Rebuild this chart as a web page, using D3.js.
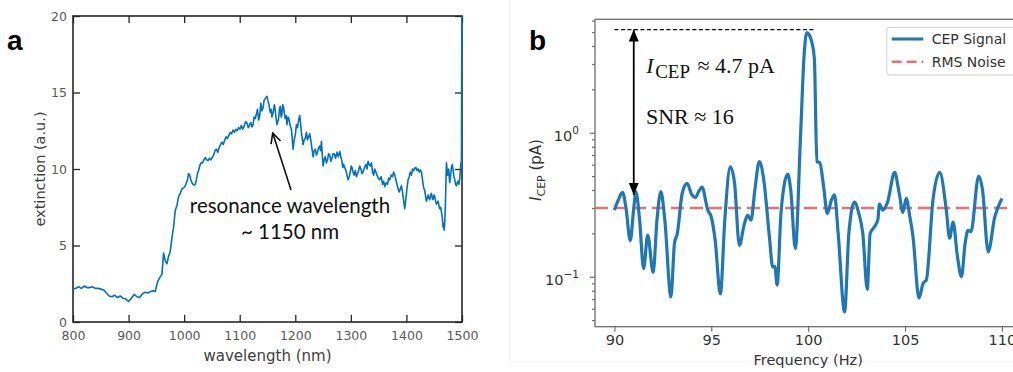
<!DOCTYPE html>
<html>
<head>
<meta charset="utf-8">
<script src="https://cdn.jsdelivr.net/npm/d3@7"></script>
<style>
  html, body { margin: 0; padding: 0; background: #fff; }
  svg { display: block; }
</style>
</head>
<body>
<script>
// ---------------- DATA ----------------
// Panel a: extinction spectrum, [wavelength (nm), extinction (a.u.)]
const spectrumA = [
[800,2.15],[805,2.2],[810,2.3],[815,2.2],[820,2.35],[825,2.25],[830,2.25],[835,2.3],[840,2.2],[845,2.2],
[850,2.15],[855,2.1],[860,1.9],[865,1.7],[870,1.65],[875,1.75],[880,1.6],[885,1.7],[890,1.55],[895,1.5],
[900,1.35],[905,1.55],[910,1.8],[915,1.65],[920,1.6],[925,1.85],[930,1.95],[935,1.9],[940,2.0],[945,2.05],
[948,2.0],[952,2.6],[956,2.9],[960,3.1],[963,4.5],[966,4.0],[969,3.8],[972,4.3],[975,4.6],[978,5.5],
[981,6.2],[984,7.3],[987,7.6],[990,8.2],[993,8.4],[996,8.7],
[1000,8.8],[1002,8.9],[1004,9.1],[1006,9.3],[1008,9.7],[1010,9.6],[1012,9.3],[1014,9.1],[1016,9.0],[1018,8.95],
[1020,9.0],[1022,9.3],[1024,9.7],[1026,9.9],[1028,10.2],[1030.5,10.4],[1033,10.4],[1035.5,10.6],[1038,10.75],[1040.5,10.6],
[1043,10.55],[1045.5,10.7],[1048,10.6],[1050.5,10.75],[1053,10.9],[1055.5,11.2],[1058,11.3],[1060.5,11.1],[1063,11.4],[1065.5,11.6],
[1068,11.75],[1070.5,11.6],[1073,11.9],[1075.5,12.1],[1078,12.0],[1080.5,12.2],[1083,12.4],[1085.5,12.3],[1088,12.55],[1090.5,12.4],
[1093,12.6],[1095.5,12.5],[1098,12.7],[1100.5,12.6],
[1103,12.85],[1105.5,12.6],[1108,12.8],[1110.5,13.1],[1113,13.0],[1115.5,12.7],[1118,12.9],[1120,13.05],[1122,12.75],[1124,12.9],
[1126,13.4],[1128,13.3],[1130,13.6],[1132,13.9],[1134,13.2],[1136,13.5],[1138,14.3],[1140,13.8],[1142,14.0],[1144,14.5],
[1146,14.6],[1149,14.75],[1150.5,14.5],[1152,14.3],[1153.5,14.0],[1155,13.7],[1156.5,13.9],[1158,13.4],[1159.5,13.6],[1161,13.9],
[1162.5,14.2],[1164,13.8],[1165.5,13.3],[1167,12.9],[1168.5,13.1],[1170,13.3],[1171.5,13.9],[1173,14.1],[1174.5,13.4],[1176,13.6],
[1177.5,14.2],[1179,14.0],[1180.5,13.6],[1182,13.3],[1183.5,13.5],[1185,12.9],[1187,13.4],[1189,13.2],[1191,12.8],[1193,12.6],
[1194.5,12.0],[1196,11.3],[1198,11.9],[1200,12.2],[1202,12.9],[1204,12.7],[1206,13.2],[1208,13.5],[1209.5,13.0],[1211,12.4],
[1212.5,12.0],[1214,11.6],[1216,11.9],[1218,12.0],[1220,12.4],[1222,11.9],[1224,12.1],[1226,12.3],[1227.5,12.0],[1229,11.6],
[1230.5,11.2],[1232,10.8],[1234,11.2],[1236,11.3],[1238,10.9],[1240,11.1],[1242,11.4],[1244,11.5],[1245.5,11.2],[1247,11.8],
[1248.5,11.0],[1250,10.2],[1252,10.6],[1254,10.8],[1256,10.4],[1258,10.6],[1260,11.0],[1262,10.9],[1264,10.5],[1266,10.7],
[1268,11.0],[1270,11.0],[1272.5,10.7],[1275,11.1],[1277.5,10.8],[1280,11.15],[1282,10.8],[1284,10.5],[1285.5,10.1],[1287,10.3],
[1289,10.1],[1291,9.9],[1293,9.6],[1295,9.3],[1297,9.5],[1299,9.8],[1300.5,10.2],[1302,10.1],[1304,9.8],[1306,9.6],
[1308,9.9],[1310,9.5],[1312,9.7],[1314,9.9],[1316,10.2],[1318,10.0],[1320,9.7],[1322,9.8],[1324.5,10.1],[1327,10.3],
[1329,10.0],[1331,10.5],[1333,10.3],[1335,10.2],[1337,10.4],[1339,9.8],[1341,9.6],[1343,10.0],[1345,9.8],[1347,9.6],
[1349.5,9.4],[1352,9.3],[1354.5,9.5],[1357,9.0],[1359,9.2],[1361,8.85],[1363.5,9.1],[1366,9.0],[1368,9.4],[1370,9.3],
[1372.5,9.6],[1375,9.5],[1377,9.8],[1379,9.6],[1381,9.3],[1383,9.0],[1385,8.7],[1387,8.5],[1389,8.7],[1391,8.9],
[1392.5,8.6],[1394,8.2],[1395.5,7.8],[1397,7.4],[1398.5,7.9],[1400,8.4],[1401.5,8.9],[1403,9.3],[1405,9.5],[1407,9.8],
[1409,9.6],[1411,10.0],[1413,9.9],[1415,10.05],[1417,10.1],[1419,9.9],[1421,10.0],[1423,9.8],[1425,9.95],[1427,9.8],
[1428.5,9.4],[1430,9.0],[1431.5,8.7],[1433,8.6],[1434.5,8.2],[1436,7.9],[1437.5,8.1],[1439,8.3],[1440.5,8.1],[1442,8.0],
[1443.5,8.3],[1445,8.4],[1446.5,8.1],[1448,8.0],[1449.5,8.3],[1451,8.2],[1452.5,7.9],[1454,7.7],[1455.5,7.8],[1457,7.9],
[1458.5,7.6],[1460,7.4],[1461.5,7.5],[1463,7.2],[1464.5,6.8],[1466,6.2],[1467,6.4],[1468,6.0],[1469,6.6],[1470,7.5],
[1471,9.0],[1472,10.4],[1473,10.0],[1474,9.6],[1475,9.9],[1476,10.0],[1477,9.5],[1478,9.1],[1479.5,9.6],[1481,10.1],
[1482.5,10.3],[1484,9.9],[1485.5,9.5],[1487,9.3],[1488.5,9.0],[1490,8.9],[1491.5,9.1],[1493,9.2],[1494.5,9.0],[1496,9.4],
[1497,9.9],[1498,10.4],[1499,10.0],[1500,25]
];
const wavelength = spectrumA.map(d => d[0]);
const extinction = spectrumA.map(d => d[1]);
const xTicksA = [800,900,1000,1100,1200,1300,1400,1500];
const yTicksA = [0,5,10,15,20];

// Panel b: CEP signal spectrum
const freq = [90.0,90.2,90.42,90.6,90.82,91.0,91.11,91.3,91.51,91.72,92.0,92.2,92.4,92.6,92.92,93.1,93.25,93.5,93.75,94.0,94.18,94.35,94.52,94.82,95.0,95.2,95.47,95.7,95.98,96.2,96.45,96.7,96.88,97.05,97.25,97.48,97.7,98.0,98.17,98.28,98.4,98.6,98.95,99.1,99.34,99.6,99.8,99.93,100.05,100.18,100.32,100.45,100.6,100.8,100.99,101.2,101.36,101.55,101.88,102.1,102.39,102.6,102.82,103.05,103.2,103.43,103.6,103.68,103.85,104.1,104.46,104.7,104.89,105.06,105.25,105.41,105.72,105.93,106.1,106.44,106.79,107.13,107.3,107.48,107.7,107.91,108.1,108.25,108.4,108.8,109.0,109.29,109.63,110.0];
const icep = [0.29,0.34,0.385,0.30,0.178,0.30,0.39,0.25,0.114,0.195,0.107,0.25,0.39,0.25,0.0726,0.17,0.20,0.38,0.445,0.37,0.354,0.39,0.42,0.29,0.26,0.18,0.076,0.25,0.58,0.45,0.165,0.23,0.268,0.247,0.40,0.63,0.48,0.19,0.117,0.118,0.0875,0.28,0.517,0.40,0.157,0.9,3.6,4.95,4.8,4.3,3.3,0.63,0.62,0.42,0.275,0.34,0.37,0.2,0.057,0.2,0.33,0.28,0.2,0.082,0.2,0.223,0.25,0.32,0.29,0.33,0.53,0.38,0.28,0.35,0.26,0.19,0.071,0.09,0.095,0.34,0.53,0.29,0.185,0.24,0.14,0.1,0.17,0.21,0.205,0.5,0.40,0.149,0.26,0.35];
const rmsNoise = 0.3;
const peakMarker = 5.2;
const arrowBottom = 0.37;
const xTicksB = [90,95,100,105,110];
const yMajorB = [0.1, 1];
const yMinorB = [0.05,0.06,0.07,0.08,0.09,0.2,0.3,0.4,0.5,0.6,0.7,0.8,0.9,2,3,4,5,6];
const legendLabels = ["CEP Signal", "RMS Noise"];

// ---------------- DRAW ----------------
const svg = d3.select("body").append("svg").attr("width", 1013).attr("height", 372);
const defs = svg.append("defs");

// faint panel edges
svg.append("line").attr("x1",509.5).attr("x2",509.5).attr("y1",0).attr("y2",362).attr("stroke","#f1f1f1");
svg.append("line").attr("x1",509.5).attr("x2",1013).attr("y1",362).attr("y2",362).attr("stroke","#f1f1f1");

// ===== Panel a =====
const xA = d3.scaleLinear().domain([800,1500]).range([73,462]);
const yA = d3.scaleLinear().domain([0,20]).range([322,16]);
const gA = svg.append("g");

defs.append("clipPath").attr("id","clipA")
  .append("rect").attr("x",72).attr("y",16).attr("width",391).attr("height",306);

const axColA = "#262626";
function styleA(g){
  g.select(".domain").remove();
  g.selectAll(".tick line").attr("stroke",axColA).attr("stroke-width",1.3);
  g.selectAll(".tick text").attr("fill","#595959").style("font-family","DejaVu Sans").style("font-size","12.5px");
}
gA.append("g").attr("transform","translate(0,322)")
  .call(d3.axisBottom(xA).tickValues(xTicksA).tickSizeInner(-7).tickSizeOuter(0).tickPadding(9).tickFormat(d3.format("d")))
  .call(styleA);
gA.append("g").attr("transform","translate(0,16)")
  .call(d3.axisTop(xA).tickValues(xTicksA).tickSizeInner(-7).tickSizeOuter(0).tickFormat(""))
  .call(styleA);
gA.append("g").attr("transform","translate(73,0)")
  .call(d3.axisLeft(yA).tickValues(yTicksA).tickSizeInner(-7).tickSizeOuter(0).tickPadding(6))
  .call(styleA);
gA.append("g").attr("transform","translate(462,0)")
  .call(d3.axisRight(yA).tickValues(yTicksA).tickSizeInner(-7).tickSizeOuter(0).tickFormat(""))
  .call(styleA);
gA.append("rect").attr("x",73).attr("y",16).attr("width",389).attr("height",306)
  .attr("fill","none").attr("stroke",axColA).attr("stroke-width",1.6);

const lineA = d3.line().x((d,i)=>xA(wavelength[i])).y(d=>yA(d));
gA.append("path").datum(extinction).attr("clip-path","url(#clipA)")
  .attr("d", lineA).attr("fill","none").attr("stroke","#0072BD").attr("stroke-width",1.6)
  .attr("stroke-linejoin","round");

gA.append("text").attr("x",(73+462)/2).attr("y",361).attr("text-anchor","middle")
  .attr("fill","#404040").style("font-family","DejaVu Sans").style("font-size","15px").text("wavelength (nm)");
gA.append("text").attr("transform","translate(45,169) rotate(-90)").attr("text-anchor","middle")
  .attr("fill","#404040").style("font-family","DejaVu Sans").style("font-size","14.5px").text("extinction (a.u.)");

// annotation
defs.append("marker").attr("id","openArrow").attr("viewBox","0 0 12 12").attr("refX",11).attr("refY",6)
  .attr("markerWidth",12).attr("markerHeight",12).attr("markerUnits","userSpaceOnUse").attr("orient","auto")
  .append("path").attr("d","M1,1 L11,6 L1,11").attr("fill","none").attr("stroke","#111").attr("stroke-width",1.6);
gA.append("line").attr("x1",xA(1192.3)).attr("y1",yA(8.63)).attr("x2",xA(1159.4)).attr("y2",yA(12.35))
  .attr("stroke","#111").attr("stroke-width",1.6).attr("marker-end","url(#openArrow)");
gA.append("text").attr("x",xA(1190.5)).attr("y",yA(7.12)).attr("text-anchor","middle")
  .attr("fill","#111").style("font-family","Lato").style("font-size","20.5px").text("resonance wavelength");
gA.append("text").attr("x",xA(1190.5)).attr("y",yA(5.42)).attr("text-anchor","middle")
  .attr("fill","#111").style("font-family","Lato").style("font-size","20.5px").text("~ 1150 nm");

svg.append("text").attr("x",7).attr("y",50).attr("fill","#000")
  .style("font-family","Liberation Sans").style("font-weight","bold").style("font-size","28px").text("a");

// ===== Panel b =====
const xB = d3.scaleLinear().domain([89,111]).range([595,1021.3]);
const yB = d3.scaleLog().domain([0.045,6.13]).range([326.7,19.3]);
const gB = svg.append("g");
defs.append("clipPath").attr("id","clipB")
  .append("rect").attr("x",595).attr("y",19.3).attr("width",426.3).attr("height",307.4);

const spineCol = "#6e6e6e";
function styleB(g){
  g.select(".domain").remove();
  g.selectAll(".tick line").attr("stroke",spineCol).attr("stroke-width",1.2);
  g.selectAll(".tick text").attr("fill","#333").style("font-family","DejaVu Sans").style("font-size","14.5px");
}
gB.append("g").attr("transform","translate(0,326.7)")
  .call(d3.axisBottom(xB).tickValues(xTicksB).tickSizeInner(5).tickSizeOuter(0).tickPadding(3.5).tickFormat(d3.format("d")))
  .call(styleB);
gB.append("g").attr("transform","translate(595,0)")
  .call(d3.axisLeft(yB).tickValues(yMajorB).tickSizeInner(5).tickSizeOuter(0).tickFormat(""))
  .call(styleB);
gB.append("g").attr("transform","translate(595,0)")
  .call(d3.axisLeft(yB).tickValues(yMinorB).tickSizeInner(3).tickSizeOuter(0).tickFormat(""))
  .call(styleB);
yMajorB.forEach(v=>{
  const t = gB.append("text").attr("x",579).attr("y",yB(v)+8.5).attr("text-anchor","end")
    .attr("fill","#333").style("font-family","DejaVu Sans").style("font-size","14.5px");
  t.append("tspan").text("10");
  t.append("tspan").attr("dy",-7).style("font-size","10.5px").text(v===1 ? "0" : "\u22121");
});
gB.append("rect").attr("x",595).attr("y",19.3).attr("width",426.3).attr("height",307.4)
  .attr("fill","none").attr("stroke",spineCol).attr("stroke-width",1.3);

// RMS noise line
gB.append("line").attr("clip-path","url(#clipB)")
  .attr("x1",xB(89)).attr("x2",xB(111)).attr("y1",yB(rmsNoise)).attr("y2",yB(rmsNoise))
  .attr("stroke","rgb(234,112,112)").attr("stroke-width",2.6).attr("stroke-dasharray","13,6");

// signal curve
const lineB = d3.line().x((d,i)=>xB(freq[i])).y(d=>yB(d)).curve(d3.curveMonotoneX);
gB.append("path").datum(icep).attr("clip-path","url(#clipB)")
  .attr("d", lineB).attr("fill","none").attr("stroke","#1f77b4").attr("stroke-width",3.2)
  .attr("stroke-linejoin","round");

// peak dashed marker
gB.append("line").attr("x1",xB(90)).attr("x2",xB(100.4)).attr("y1",yB(peakMarker)).attr("y2",yB(peakMarker))
  .attr("stroke","#000").attr("stroke-width",1.2).attr("stroke-dasharray","4,2.5");
// double arrow
defs.append("marker").attr("id","solidArrow").attr("viewBox","0 0 12 10").attr("refX",12).attr("refY",5)
  .attr("markerWidth",12).attr("markerHeight",10).attr("markerUnits","userSpaceOnUse").attr("orient","auto-start-reverse")
  .append("path").attr("d","M0,0 L12,5 L0,10 Z").attr("fill","#000");
gB.append("line").attr("x1",xB(91)).attr("x2",xB(91)).attr("y1",yB(arrowBottom)).attr("y2",yB(peakMarker))
  .attr("stroke","#000").attr("stroke-width",1.8)
  .attr("marker-start","url(#solidArrow)").attr("marker-end","url(#solidArrow)");

// annotation texts
const a1 = gB.append("text").attr("x",xB(91.65)).attr("y",yB(2.6)).attr("fill","#111")
  .style("font-family","Liberation Serif").style("font-size","22px");
a1.append("tspan").style("font-style","italic").text("I");
a1.append("tspan").attr("dy",5).attr("dx",1.5).style("font-size","19px").text("CEP");
a1.append("tspan").attr("dy",-5).attr("dx",2).text(" \u2248 4.7 pA");
gB.append("text").attr("x",xB(91.63)).attr("y",yB(1.15)).attr("fill","#111")
  .style("font-family","Liberation Serif").style("font-size","22px").text("SNR \u2248 16");

// axis labels
gB.append("text").attr("x",xB(100)).attr("y",365).attr("text-anchor","middle")
  .attr("fill","#333").style("font-family","DejaVu Sans").style("font-size","14.5px").text("Frequency (Hz)");
const yl = gB.append("text").attr("transform","translate(541,170) rotate(-90)").attr("text-anchor","middle")
  .attr("fill","#333").style("font-family","DejaVu Sans").style("font-size","15px");
yl.append("tspan").style("font-style","italic").text("I");
yl.append("tspan").attr("dy",3.5).style("font-size","11px").text("CEP");
yl.append("tspan").attr("dy",-3.5).text(" (pA)");

// legend
const lg = gB.append("g");
lg.append("rect").attr("x",886.7).attr("y",27.3).attr("width",140).attr("height",47.7).attr("rx",3)
  .attr("fill","#fff").attr("fill-opacity",0.85).attr("stroke","#d0d0d0").attr("stroke-width",1);
lg.append("line").attr("x1",891.7).attr("x2",923.3).attr("y1",39).attr("y2",39)
  .attr("stroke","#1f77b4").attr("stroke-width",3.2);
lg.append("line").attr("x1",891.7).attr("x2",923.3).attr("y1",61.7).attr("y2",61.7)
  .attr("stroke","rgb(234,112,112)").attr("stroke-width",2.6).attr("stroke-dasharray","10,5");
legendLabels.forEach((l,i)=>{
  lg.append("text").attr("x",931.7).attr("y",44 + i*22.7).attr("fill","#333")
    .style("font-family","DejaVu Sans").style("font-size","14px").text(l);
});

svg.append("text").attr("x",529).attr("y",50).attr("fill","#000")
  .style("font-family","Liberation Sans").style("font-weight","bold").style("font-size","28px").text("b");
</script>
</body>
</html>
